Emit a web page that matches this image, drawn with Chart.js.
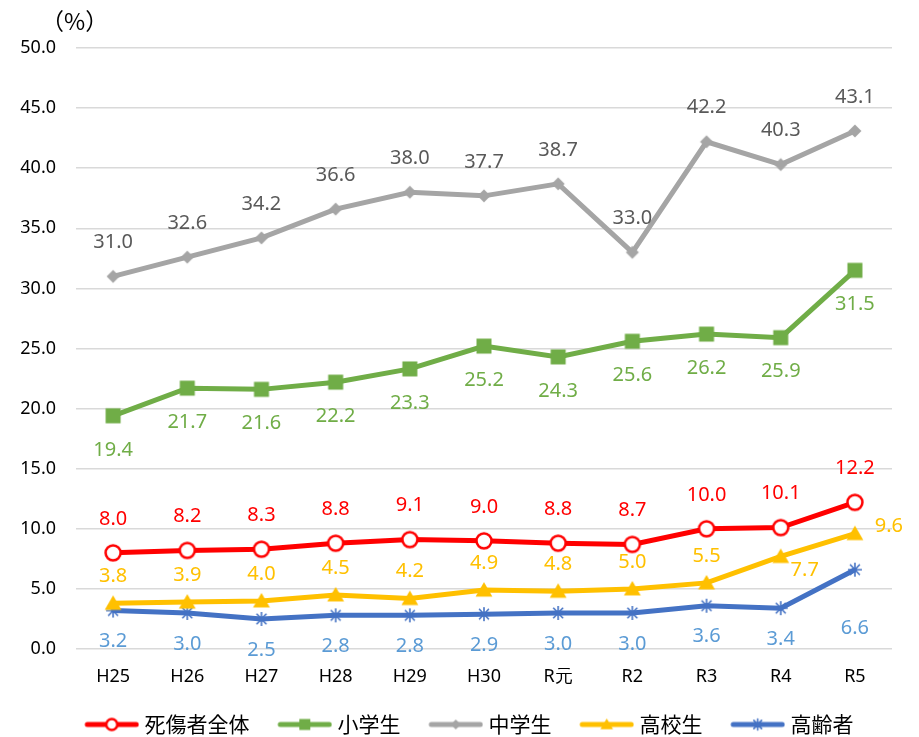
<!DOCTYPE html>
<html><head><meta charset="utf-8">
<script src="https://cdn.jsdelivr.net/npm/chart.js@4/dist/chart.umd.min.js"></script>
<style>html,body{margin:0;padding:0;background:#fff}#wrap{width:919px;height:737px}</style>
</head><body><div id="wrap"><canvas id="c" width="919" height="737"></canvas></div>
<script>
const categories = ['H25','H26','H27','H28','H29','H30','R元','R2','R3','R4','R5'];
const seriesNames = ['死傷者全体','小学生','中学生','高校生','高齢者'];
const allCasualties = [8.0, 8.2, 8.3, 8.8, 9.1, 9.0, 8.8, 8.7, 10.0, 10.1, 12.2];
const elementary = [19.4, 21.7, 21.6, 22.2, 23.3, 25.2, 24.3, 25.6, 26.2, 25.9, 31.5];
const juniorHigh = [31.0, 32.6, 34.2, 36.6, 38.0, 37.7, 38.7, 33.0, 42.2, 40.3, 43.1];
const highSchool = [3.8, 3.9, 4.0, 4.5, 4.2, 4.9, 4.8, 5.0, 5.5, 7.7, 9.6];
const elderly = [3.2, 3.0, 2.5, 2.8, 2.8, 2.9, 3.0, 3.0, 3.6, 3.4, 6.6];
const yTicks = [0, 5, 10, 15, 20, 25, 30, 35, 40, 45, 50];

// label placement (not data): a = above, b = below, r = right, br = below-right, bb = far below
const placeAll = Array(11).fill('a');
const placeElem = Array(11).fill('b');
const placeJunior = Array(11).fill('a');
const placeHigh = ['a2','a2','a2','a2','a2','a2','a2','a2','a2','br','r'];
const placeElderly = ['b2','b2','b2','b2','b2','b2','b2','b2','b2','b2','bb'];

const styles = [
  {color:'#FF0000', label:'#FF0000', point:'circle', fill:'#FFFFFF'},
  {color:'#70AD47', label:'#70AD47', point:'rect', fill:'#70AD47'},
  {color:'#A5A5A5', label:'#595959', point:'rectRot', fill:'#A5A5A5'},
  {color:'#FFC000', label:'#FFC000', point:'triangle', fill:'#FFC000'},
  {color:'#4472C4', label:'#5B9BD5', point:'star', fill:'#4472C4'}
];
const seriesData = [allCasualties, elementary, juniorHigh, highSchool, elderly];
const places = [placeAll, placeElem, placeJunior, placeHigh, placeElderly];

function drawMarker(g, st, cx, cy, s){
  g.fillStyle = st.fill; g.strokeStyle = st.color;
  g.beginPath();
  if (st.point==='circle'){ g.lineWidth = 2.5; g.arc(cx,cy,s,0,Math.PI*2); g.fill(); g.stroke(); }
  else if (st.point==='rect'){ g.rect(cx-s,cy-s,2*s,2*s); g.fill(); }
  else if (st.point==='rectRot'){ g.moveTo(cx,cy-s); g.lineTo(cx+s,cy); g.lineTo(cx,cy+s); g.lineTo(cx-s,cy); g.closePath(); g.fill(); }
  else if (st.point==='triangle'){ g.moveTo(cx,cy-s); g.lineTo(cx+s*1.05,cy+s*0.8); g.lineTo(cx-s*1.05,cy+s*0.8); g.closePath(); g.fill(); }
  else if (st.point==='star'){ g.lineWidth=1.6; g.moveTo(cx-s,cy); g.lineTo(cx+s,cy); g.moveTo(cx-s*0.7,cy-s*0.75); g.lineTo(cx+s*0.7,cy+s*0.75); g.moveTo(cx+s*0.7,cy-s*0.75); g.lineTo(cx-s*0.7,cy+s*0.75); g.moveTo(cx,cy-s); g.lineTo(cx,cy+s); g.stroke(); }
}
const markerSize = [7.5, 7.5, 6.5, 8, 7];
const legendMarkerSize = [5.5, 5.5, 5, 6, 5.5];

function pointIcon(i){
  const cv = document.createElement('canvas');
  cv.width = 22; cv.height = 22;
  drawMarker(cv.getContext('2d'), styles[i], 11, 11, markerSize[i]);
  return cv;
}
// legend icon: transparent lead-in on the left, then line + marker (55px)
function legendIcon(i){
  const cv = document.createElement('canvas');
  cv.width = 88; cv.height = 18;
  const g = cv.getContext('2d');
  const x0 = 33, x1 = 88;
  g.strokeStyle = styles[i].color; g.lineWidth = 5; g.lineCap='round';
  g.beginPath(); g.moveTo(x0+3,9); g.lineTo(x1-3,9); g.stroke();
  drawMarker(g, styles[i], (x0+x1)/2, 9, legendMarkerSize[i]);
  return cv;
}

const datasets = seriesData.map((d,i)=>({
  label: seriesNames[i],
  data: d,
  borderColor: styles[i].color,
  backgroundColor: styles[i].fill,
  borderWidth: 5,
  pointStyle: pointIcon(i),
  pointRadius: 7,
  tension: 0,
  clip: false
}));

const labelPlugin = {
  id:'dataLabels',
  afterDatasetsDraw(chart){
    const ctx = chart.ctx;
    ctx.save();
    ctx.font = '20px "Noto Sans", sans-serif';
    ctx.textAlign = 'center'; ctx.textBaseline = 'middle';
    chart.data.datasets.forEach((ds, di)=>{
      const meta = chart.getDatasetMeta(di);
      ctx.fillStyle = styles[di].label;
      meta.data.forEach((pt, j)=>{
        const p = places[di][j];
        let dx = 0, dy = 0;
        if (p==='a') dy = -34;
        else if (p==='a2') dy = -27;
        else if (p==='b') dy = 34;
        else if (p==='b2') dy = 31;
        else if (p==='bb') dy = 59;
        else if (p==='br') { dx = 24; dy = 14; }
        else if (p==='r') { dx = 34; dy = -7; }
        ctx.fillText(ds.data[j].toFixed(1), pt.x+dx, pt.y+dy);
      });
    });
    ctx.restore();
  }
};
const unitPlugin = {
  id:'unit',
  afterDraw(chart){
    const ctx = chart.ctx;
    ctx.save();
    ctx.font = '23px "Noto Sans CJK JP", sans-serif';
    ctx.fillStyle = '#000';
    ctx.textAlign='left'; ctx.textBaseline='middle';
    ctx.fillText('（%）', 41, 21);
    ctx.restore();
  }
};

new Chart(document.getElementById('c'), {
  type:'line',
  data:{ labels: categories, datasets },
  options:{
    responsive:false, animation:false,
    layout:{ padding:{ top:48, right:27, left:18, bottom:-8 } },
    scales:{
      x:{ offset:true, grid:{display:false}, border:{display:false},
          afterFit(s){ s.height = 65; },
          ticks:{ color:'#000', font:{size:18, family:'"Noto Sans", sans-serif'}, padding:9 } },
      y:{ min:0, max:50, afterBuildTicks(s){ s.ticks = yTicks.map(v=>({value:v})); },
          afterFit(s){ s.width = 58; },
          grid:{ color:'#D9D9D9', lineWidth:1.5, drawTicks:false }, border:{display:false},
          ticks:{ color:'#000', font:{size:18, family:'"Noto Sans", sans-serif'}, padding:20,
                  callback:(v)=>Number(v).toFixed(1) } }
    },
    plugins:{
      legend:{ position:'bottom',
        labels:{ usePointStyle:true, pointStyleWidth:77.5, boxHeight:18, padding:0,
          color:'#000', font:{size:21, family:'"Noto Sans CJK JP", sans-serif'},
          generateLabels(chart){
            return chart.data.datasets.map((ds,i)=>({ text: ds.label, pointStyle: legendIcon(i),
              fillStyle: styles[i].color, strokeStyle: styles[i].color, lineWidth:0, datasetIndex:i, hidden:false }));
          } } },
      tooltip:{enabled:false}
    }
  },
  plugins:[labelPlugin, unitPlugin]
});
</script></body></html>
